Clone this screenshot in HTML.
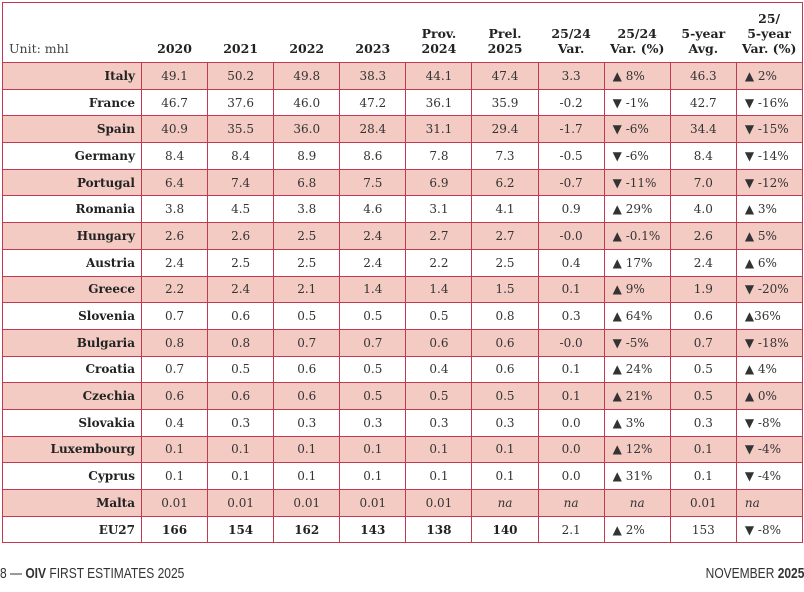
<!DOCTYPE html>
<html><head><meta charset="utf-8"><style>
body{margin:0;width:804px;height:592px;background:#fff;position:relative;overflow:hidden;font-family:"DejaVu Serif","Liberation Serif",serif;color:#222}
table{position:absolute;left:2px;top:2px;border-collapse:collapse;table-layout:fixed;width:800px;border:1.5px solid #c23a52}
td,th{font-size:12px;height:25.7px;padding:0;text-align:center;border:1px solid #c23a52;font-weight:normal;color:#333}
thead th{border:none;font-weight:bold;vertical-align:bottom;padding-bottom:6px;line-height:15px;height:53px;color:#222;font-size:12.5px}
thead th.u{text-align:left;font-weight:normal;padding-left:6px;color:#444}
td.n{text-align:right;font-weight:bold;padding-right:6px;color:#222}
td.l{text-align:left;padding-left:8px}
tr.p td{background:#f3cbc3}
td.b{font-weight:bold;color:#222}
i{font-style:italic}
.f{position:absolute;top:565px;font-family:"Liberation Sans Narrow","Liberation Sans",sans-serif;font-size:15px;color:#333;transform:scaleX(.8)}
</style></head><body>
<table>
<colgroup><col style="width:139px"><col span="10" style="width:66.1px"></colgroup>
<thead><tr><th class="u">Unit: mhl</th><th>2020</th><th>2021</th><th>2022</th><th>2023</th><th>Prov.<br>2024</th><th>Prel.<br>2025</th><th>25/24<br>Var.</th><th>25/24<br>Var. (%)</th><th>5-year<br>Avg.</th><th>25/<br>5-year<br>Var. (%)</th></tr></thead>
<tbody>
<tr class="p"><td class="n">Italy</td><td>49.1</td><td>50.2</td><td>49.8</td><td>38.3</td><td>44.1</td><td>47.4</td><td>3.3</td><td class="l">▲ 8%</td><td>46.3</td><td class="l">▲ 2%</td></tr>
<tr><td class="n">France</td><td>46.7</td><td>37.6</td><td>46.0</td><td>47.2</td><td>36.1</td><td>35.9</td><td>-0.2</td><td class="l">▼ -1%</td><td>42.7</td><td class="l">▼ -16%</td></tr>
<tr class="p"><td class="n">Spain</td><td>40.9</td><td>35.5</td><td>36.0</td><td>28.4</td><td>31.1</td><td>29.4</td><td>-1.7</td><td class="l">▼ -6%</td><td>34.4</td><td class="l">▼ -15%</td></tr>
<tr><td class="n">Germany</td><td>8.4</td><td>8.4</td><td>8.9</td><td>8.6</td><td>7.8</td><td>7.3</td><td>-0.5</td><td class="l">▼ -6%</td><td>8.4</td><td class="l">▼ -14%</td></tr>
<tr class="p"><td class="n">Portugal</td><td>6.4</td><td>7.4</td><td>6.8</td><td>7.5</td><td>6.9</td><td>6.2</td><td>-0.7</td><td class="l">▼ -11%</td><td>7.0</td><td class="l">▼ -12%</td></tr>
<tr><td class="n">Romania</td><td>3.8</td><td>4.5</td><td>3.8</td><td>4.6</td><td>3.1</td><td>4.1</td><td>0.9</td><td class="l">▲ 29%</td><td>4.0</td><td class="l">▲ 3%</td></tr>
<tr class="p"><td class="n">Hungary</td><td>2.6</td><td>2.6</td><td>2.5</td><td>2.4</td><td>2.7</td><td>2.7</td><td>-0.0</td><td class="l">▲ -0.1%</td><td>2.6</td><td class="l">▲ 5%</td></tr>
<tr><td class="n">Austria</td><td>2.4</td><td>2.5</td><td>2.5</td><td>2.4</td><td>2.2</td><td>2.5</td><td>0.4</td><td class="l">▲ 17%</td><td>2.4</td><td class="l">▲ 6%</td></tr>
<tr class="p"><td class="n">Greece</td><td>2.2</td><td>2.4</td><td>2.1</td><td>1.4</td><td>1.4</td><td>1.5</td><td>0.1</td><td class="l">▲ 9%</td><td>1.9</td><td class="l">▼ -20%</td></tr>
<tr><td class="n">Slovenia</td><td>0.7</td><td>0.6</td><td>0.5</td><td>0.5</td><td>0.5</td><td>0.8</td><td>0.3</td><td class="l">▲ 64%</td><td>0.6</td><td class="l">▲36%</td></tr>
<tr class="p"><td class="n">Bulgaria</td><td>0.8</td><td>0.8</td><td>0.7</td><td>0.7</td><td>0.6</td><td>0.6</td><td>-0.0</td><td class="l">▼ -5%</td><td>0.7</td><td class="l">▼ -18%</td></tr>
<tr><td class="n">Croatia</td><td>0.7</td><td>0.5</td><td>0.6</td><td>0.5</td><td>0.4</td><td>0.6</td><td>0.1</td><td class="l">▲ 24%</td><td>0.5</td><td class="l">▲ 4%</td></tr>
<tr class="p"><td class="n">Czechia</td><td>0.6</td><td>0.6</td><td>0.6</td><td>0.5</td><td>0.5</td><td>0.5</td><td>0.1</td><td class="l">▲ 21%</td><td>0.5</td><td class="l">▲ 0%</td></tr>
<tr><td class="n">Slovakia</td><td>0.4</td><td>0.3</td><td>0.3</td><td>0.3</td><td>0.3</td><td>0.3</td><td>0.0</td><td class="l">▲ 3%</td><td>0.3</td><td class="l">▼ -8%</td></tr>
<tr class="p"><td class="n">Luxembourg</td><td>0.1</td><td>0.1</td><td>0.1</td><td>0.1</td><td>0.1</td><td>0.1</td><td>0.0</td><td class="l">▲ 12%</td><td>0.1</td><td class="l">▼ -4%</td></tr>
<tr><td class="n">Cyprus</td><td>0.1</td><td>0.1</td><td>0.1</td><td>0.1</td><td>0.1</td><td>0.1</td><td>0.0</td><td class="l">▲ 31%</td><td>0.1</td><td class="l">▼ -4%</td></tr>
<tr class="p"><td class="n">Malta</td><td>0.01</td><td>0.01</td><td>0.01</td><td>0.01</td><td>0.01</td><td><i>na</i></td><td><i>na</i></td><td><i>na</i></td><td>0.01</td><td class="l"><i>na</i></td></tr>
<tr><td class="n">EU27</td><td class="b">166</td><td class="b">154</td><td class="b">162</td><td class="b">143</td><td class="b">138</td><td class="b">140</td><td>2.1</td><td class="l">▲ 2%</td><td>153</td><td class="l">▼ -8%</td></tr>
</tbody></table>
<div class="f" style="left:0;transform-origin:left">8 — <b>OIV</b> FIRST ESTIMATES 2025</div>
<div class="f" style="right:0;transform-origin:right">NOVEMBER <b>2025</b></div>
</body></html>
